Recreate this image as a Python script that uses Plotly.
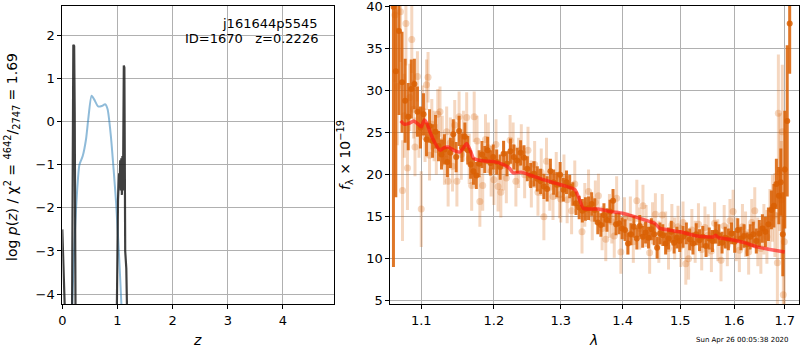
import plotly.graph_objects as go

# ---------------- redshift probability panel ----------------
z_pdf = [0.17, 0.18, 0.23, 0.27, 0.31, 0.37, 0.43, 0.47, 0.53, 0.575, 0.65,
         0.715, 0.775, 0.82, 0.88, 0.93, 0.975, 1.02, 1.07, 1.09]
logp_pdf = [-5.0, -4.2, -2.5, -1.57, -1.0, -0.8, -0.41, 0.05, 0.6, 0.52, 0.35,
            0.36, 0.40, 0.29, -0.33, -1.11, -1.88, -2.89, -4.21, -5.0]

z_chi = [0.0, 0.03, 0.06, 0.16, 0.18, 0.19, 0.20, 0.215, 0.225, 0.24, 0.26,
         0.95, 0.99, 1.01, 1.03, 1.04, 1.05, 1.06, 1.07, 1.08, 1.09, 1.10,
         1.115, 1.125, 1.14, 1.16, 1.175, 1.2, 4.93]
logp_chi = [-2.5, -4.6, -9.0, -9.0, -3.5, 0.5, 1.78, 1.75, 0.2, -4.5, -9.0,
            -9.0, -4.5, -1.8, -1.2, -1.5, -0.9, -1.6, -0.85, -1.7, -0.8, -1.6,
            1.3, 1.25, -3.0, -3.4, -4.5, -9.0, -9.0]

# ---------------- spectrum panel ----------------
wave_a = [1.064, 1.067, 1.071, 1.075, 1.079, 1.083, 1.087, 1.091, 1.095, 1.099,
          1.103, 1.107, 1.111, 1.115, 1.119, 1.123, 1.127, 1.131, 1.135, 1.139,
          1.143, 1.147, 1.151, 1.155, 1.159, 1.163, 1.167, 1.171, 1.175, 1.179,
          1.183, 1.187, 1.191, 1.195, 1.199, 1.204, 1.209, 1.214, 1.219, 1.224,
          1.229, 1.234, 1.239, 1.244, 1.249, 1.254, 1.259, 1.264, 1.269, 1.274,
          1.279, 1.284, 1.289, 1.294, 1.299, 1.304, 1.309, 1.314, 1.319, 1.324,
          1.329, 1.334, 1.339, 1.344, 1.349, 1.354, 1.359, 1.364, 1.369, 1.374,
          1.379, 1.384, 1.389, 1.394, 1.399, 1.404, 1.409, 1.414, 1.419, 1.424,
          1.429, 1.434, 1.439, 1.444, 1.449, 1.454, 1.459, 1.464, 1.469, 1.474,
          1.479, 1.484, 1.489, 1.494, 1.499, 1.505, 1.511, 1.517, 1.523, 1.529,
          1.535, 1.541, 1.547, 1.553, 1.559, 1.565, 1.571, 1.577, 1.583, 1.589,
          1.595, 1.601, 1.607, 1.613, 1.619, 1.625, 1.631, 1.637, 1.643, 1.649,
          1.655, 1.661, 1.667, 1.673, 1.678, 1.683, 1.688, 1.692, 1.696, 1.700,
          1.705, 1.710]
flux_a = [40.0, 32.3, 37.1, 31.0, 28.8, 26.9, 30.2, 30.8, 27.5, 25.6,
          27.2, 24.2, 25.8, 24.0, 25.1, 23.4, 22.4, 23.0, 21.5, 22.6,
          24.8, 22.1, 25.2, 23.2, 24.5, 22.9, 21.2, 20.4, 19.9, 21.3,
          22.4, 21.8, 22.9, 21.4, 22.1, 21.5, 20.9, 22.5, 21.3, 22.8,
          22.1, 21.7, 22.6, 22.0, 20.7, 19.9, 20.1, 19.5, 19.2, 18.6,
          18.3, 20.4, 19.1, 18.8, 20.0, 18.2, 19.1, 18.6, 17.7, 16.6,
          16.1, 15.7, 15.9, 16.0, 16.5, 15.8, 14.3, 14.0, 15.2, 14.6,
          15.6, 16.9, 14.1, 14.2, 13.6, 13.4, 11.8, 12.9, 13.8, 12.4,
          13.9, 12.6, 13.1, 12.5, 13.5, 12.9, 11.3, 13.0, 12.8, 11.8,
          12.4, 13.2, 11.9, 12.5, 12.1, 12.6, 13.0, 12.3, 11.8, 12.9,
          12.2, 12.6, 11.5, 12.4, 12.1, 13.1, 12.8, 11.9, 12.5, 12.3,
          13.0, 12.0, 13.4, 12.4, 12.7, 11.7, 12.6, 12.9, 12.1, 13.0,
          13.6, 13.2, 14.1, 15.8, 16.3, 18.9, 17.5, 19.1, 12.9, 20.6,
          26.4, 38.0]
err_a = [31.0, 15.0, 10.0, 6.0, 5.0, 4.0, 3.5, 3.0, 3.0, 2.5,
         2.5, 2.0, 2.0, 2.0, 2.0, 1.8, 1.8, 1.8, 1.8, 1.8,
         1.8, 1.8, 1.8, 1.7, 1.7, 1.7, 1.7, 1.6, 1.6, 1.6,
         1.6, 1.6, 1.6, 1.5, 1.5, 1.5, 1.5, 1.5, 1.5, 1.5,
         1.5, 1.5, 1.5, 1.5, 1.5, 1.5, 1.5, 1.5, 1.5, 1.5,
         1.5, 1.5, 1.5, 1.5, 1.5, 1.4, 1.4, 1.4, 1.4, 1.4,
         1.4, 1.4, 1.4, 1.4, 1.4, 1.4, 1.4, 1.4, 1.4, 1.4,
         1.4, 1.4, 1.3, 1.3, 1.3, 1.3, 1.3, 1.3, 1.3, 1.3,
         1.3, 1.3, 1.3, 1.3, 1.3, 1.3, 1.3, 1.3, 1.3, 1.3,
         1.3, 1.3, 1.3, 1.3, 1.3, 1.3, 1.3, 1.3, 1.3, 1.3,
         1.3, 1.3, 1.3, 1.3, 1.3, 1.3, 1.3, 1.3, 1.3, 1.3,
         1.3, 1.3, 1.4, 1.4, 1.4, 1.4, 1.5, 1.5, 1.5, 1.6,
         1.7, 1.8, 2.0, 2.3, 2.6, 3.0, 3.4, 4.0, 5.0, 7.0,
         9.0, 6.0]

wave_b = [1.066, 1.069, 1.073, 1.0756, 1.078, 1.080, 1.082, 1.085, 1.0876, 1.090,
          1.0918, 1.095, 1.097, 1.100, 1.102, 1.105, 1.107, 1.109, 1.111, 1.114,
          1.117, 1.120, 1.122, 1.125, 1.128, 1.131, 1.134, 1.136, 1.139, 1.142,
          1.145, 1.148, 1.151, 1.154, 1.157, 1.1615, 1.165, 1.1685, 1.172, 1.176,
          1.180, 1.184, 1.188, 1.192, 1.196, 1.200, 1.203, 1.206, 1.210, 1.214,
          1.218, 1.2235, 1.228, 1.232, 1.236, 1.240, 1.245, 1.250, 1.255, 1.260,
          1.265, 1.270, 1.274, 1.278, 1.283, 1.288, 1.293, 1.298, 1.300, 1.305,
          1.310, 1.317, 1.322, 1.3335, 1.338, 1.344, 1.350, 1.355, 1.360, 1.366,
          1.372, 1.378, 1.382, 1.386, 1.390, 1.397, 1.403, 1.408, 1.413, 1.418,
          1.424, 1.429, 1.4345, 1.440, 1.446, 1.451, 1.456, 1.462, 1.468, 1.474,
          1.479, 1.485, 1.490, 1.496, 1.501, 1.505, 1.510, 1.515, 1.521, 1.527,
          1.533, 1.539, 1.545, 1.551, 1.557, 1.563, 1.569, 1.575, 1.581, 1.587,
          1.592, 1.598, 1.604, 1.610, 1.616, 1.622, 1.628, 1.634, 1.640, 1.646,
          1.652, 1.658, 1.664, 1.670, 1.675, 1.680, 1.685, 1.687, 1.690, 1.693,
          1.695, 1.697, 1.699]
flux_b = [39.0, 30.5, 39.4, 18.1, 27.0, 38.0, 20.8, 29.2, 36.1, 27.8,
          23.3, 31.7, 25.0, 15.9, 27.6, 24.5, 30.7, 31.6, 22.3, 26.0,
          24.6, 23.0, 27.2, 27.5, 24.0, 21.8, 25.1, 19.2, 23.8, 21.0,
          25.9, 19.2, 26.9, 22.4, 24.6, 26.8, 21.9, 18.7, 26.9, 24.0,
          16.8, 18.7, 24.2, 23.2, 20.4, 19.4, 23.6, 18.6, 17.9, 21.1,
          19.6, 24.1, 23.2, 19.2, 21.4, 23.0, 20.0, 22.9, 18.9, 21.2,
          17.9, 20.3, 15.0, 21.6, 18.5, 17.4, 19.9, 17.6, 17.1, 19.6,
          17.0, 15.7, 18.9, 13.2, 16.4, 18.0, 14.8, 16.7, 17.5, 13.6,
          12.3, 15.1, 14.4, 12.7, 17.2, 10.8, 14.8, 13.0, 14.9, 12.0,
          16.9, 13.6, 16.3, 13.9, 10.7, 14.2, 15.3, 12.0, 15.2, 13.1,
          11.2, 14.0, 12.4, 13.8, 11.5, 14.3, 9.4, 10.0, 13.4, 12.0,
          14.1, 11.1, 13.7, 12.8, 10.9, 14.2, 12.2, 9.8, 13.9, 11.6,
          14.5, 15.6, 12.3, 11.0, 13.8, 12.9, 10.8, 14.3, 15.7, 12.0,
          11.2, 13.5, 12.6, 14.8, 16.0, 15.2, 9.5, 27.3, 20.3, 17.0,
          25.1, 5.7, 12.0]
err_b = [8.0, 7.0, 6.0, 6.0, 5.0, 5.0, 5.0, 4.0, 4.0, 3.5,
         3.5, 3.0, 3.0, 4.5, 3.0, 3.0, 3.0, 3.0, 3.0, 3.0,
         3.0, 3.0, 3.0, 3.0, 3.0, 3.0, 3.0, 3.0, 3.0, 3.0,
         3.0, 3.0, 3.0, 3.0, 3.0, 3.0, 3.0, 3.0, 3.0, 3.0,
         3.0, 3.0, 3.0, 3.0, 3.0, 3.0, 3.0, 3.0, 3.0, 3.0,
         3.0, 3.0, 3.0, 3.0, 3.0, 3.0, 2.8, 2.8, 2.8, 2.8,
         2.8, 2.8, 2.8, 2.8, 2.8, 2.8, 2.8, 2.8, 2.8, 2.8,
         2.8, 2.8, 2.8, 2.6, 2.6, 2.6, 2.6, 2.6, 2.6, 2.6,
         2.6, 2.6, 2.6, 2.6, 2.6, 2.6, 2.5, 2.5, 2.5, 2.5,
         2.5, 2.5, 2.5, 2.5, 2.5, 2.5, 2.5, 2.5, 2.5, 2.5,
         2.5, 2.5, 2.5, 2.5, 2.5, 2.5, 2.5, 2.5, 2.5, 2.5,
         2.5, 2.5, 2.5, 2.5, 2.5, 2.5, 2.5, 2.5, 2.5, 2.5,
         2.6, 2.6, 2.6, 2.6, 2.7, 2.7, 2.7, 2.8, 2.8, 2.9,
         3.0, 3.0, 3.2, 3.5, 4.0, 5.0, 6.0, 7.0, 7.0, 7.0,
         8.0, 9.0, 9.0]

wave_model = [1.0732, 1.078, 1.084, 1.090, 1.096, 1.100, 1.104, 1.107, 1.112,
              1.118, 1.125, 1.130, 1.136, 1.144, 1.152, 1.157, 1.1615, 1.166,
              1.171, 1.180, 1.190, 1.200, 1.2135, 1.222, 1.228, 1.240, 1.255,
              1.273, 1.300, 1.3224, 1.3356, 1.345, 1.360, 1.380, 1.400, 1.420,
              1.4466, 1.455, 1.464, 1.480, 1.500, 1.530, 1.561, 1.565, 1.570,
              1.580, 1.600, 1.620, 1.644, 1.670, 1.700]
flux_model = [26.4, 26.0, 26.1, 26.4, 26.0, 25.7, 26.5, 26.2, 25.0,
              23.8, 22.9, 23.2, 23.3, 22.9, 22.7, 23.2, 23.7, 23.0,
              21.95, 21.7, 21.6, 21.55, 21.2, 20.8, 20.2, 20.3, 19.9,
              19.4, 18.8, 18.2, 16.0, 15.9, 15.9, 15.6, 15.4, 15.0,
              14.4, 14.2, 13.6, 13.4, 13.2, 12.7, 12.6, 12.8, 12.5,
              12.4, 12.2, 11.9, 11.4, 11.1, 10.8]

left_xticks = [0, 1, 2, 3, 4]
left_yticks = [-4, -3, -2, -1, 0, 1, 2]
right_xticks = [1.1, 1.2, 1.3, 1.4, 1.5, 1.6, 1.7]
right_xticklabels = ["1.1", "1.2", "1.3", "1.4", "1.5", "1.6", "1.7"]
right_yticks = [5, 10, 15, 20, 25, 30, 35, 40]

FONT = "DejaVu Sans"
W, H = 800, 350
dark = "rgba(217,95,2,0.85)"
light = "rgba(217,95,2,0.25)"

fig = go.Figure()

fig.add_trace(go.Scatter(x=z_pdf, y=logp_pdf, mode="lines", xaxis="x", yaxis="y",
                         line=dict(color="rgba(31,119,180,0.5)", width=2, shape="spline", smoothing=0.6),
                         showlegend=False))
fig.add_trace(go.Scatter(x=z_chi, y=logp_chi, mode="lines", xaxis="x", yaxis="y",
                         line=dict(color="rgba(30,30,30,0.85)", width=2.2),
                         showlegend=False))

fig.add_trace(go.Scatter(x=wave_b, y=flux_b, mode="markers", xaxis="x2", yaxis="y2",
                         marker=dict(color=light, size=7),
                         error_y=dict(type="data", array=err_b, color=light, thickness=3, width=0),
                         showlegend=False))
fig.add_trace(go.Scatter(x=wave_a, y=flux_a, mode="markers", xaxis="x2", yaxis="y2",
                         marker=dict(color=dark, size=6),
                         error_y=dict(type="data", array=err_a, color=dark, thickness=3, width=0),
                         showlegend=False))
fig.add_trace(go.Scatter(x=wave_model, y=flux_model, mode="lines", xaxis="x2", yaxis="y2",
                         line=dict(color="rgba(255,20,20,0.65)", width=3.5, shape="spline", smoothing=0.5),
                         showlegend=False))

ax_common = dict(showgrid=True, gridcolor="#b0b0b0", gridwidth=1, zeroline=False,
                 showline=True, linecolor="black", linewidth=1, mirror=True,
                 ticks="outside", ticklen=4, tickcolor="black", automargin=False,
                 ticklabeloverflow="allow",
                 tickfont=dict(family=FONT, size=13, color="black"))

y_dom = [1 - 304 / H, 1 - 6 / H]
fig.update_layout(
    width=W, height=H, margin=dict(l=0, r=0, t=0, b=0, autoexpand=False),
    paper_bgcolor="white", plot_bgcolor="white",
    font=dict(family=FONT, color="black"),
    xaxis=dict(domain=[62.3 / W, 334.3 / W], range=[0, 4.93],
               tickvals=left_xticks, anchor="y", **ax_common),
    yaxis=dict(domain=y_dom, range=[-4.23, 2.68],
               tickvals=left_yticks, anchor="x", **ax_common),
    xaxis2=dict(domain=[390.3 / W, 799.3 / W], type="log", range=[0.0253, 0.2380],
                tickvals=right_xticks, ticktext=right_xticklabels, anchor="y2", **ax_common),
    yaxis2=dict(domain=y_dom, range=[4.6, 40.08],
                tickvals=right_yticks, anchor="x2", **ax_common),
)

def px(x, y):
    return x / W, 1 - y / H

annots = [
    (12, 157, "log <i>p</i>(<i>z</i>) / χ<sup>2</sup> = <sup>4642</sup>/<sub>2747</sub> = 1.69", -90, 14, "center"),
    (345, 155, "<i>f</i><sub>λ</sub> × 10<sup>−19</sup>", -90, 14, "center"),
    (197.5, 340, "<i>z</i>", 0, 14, "center"),
    (593, 340, "<i>λ</i>", 0, 14, "center"),
    (320, 23.5, "j161644p5545", 0, 13, "right"),
    (320, 38.5, "ID=1670   z=0.2226", 0, 13, "right"),
    (742, 339.5, "Sun Apr 26 00:05:38 2020", 0, 7, "center"),
]
for x, y, text, ang, size, anchor in annots:
    ax_, ay_ = px(x, y)
    fig.add_annotation(x=ax_, y=ay_, xref="paper", yref="paper", text=text,
                       textangle=ang, showarrow=False, xanchor=anchor, yanchor="middle",
                       font=dict(family=FONT, size=size, color="black"))

fig.write_html("out.html")
